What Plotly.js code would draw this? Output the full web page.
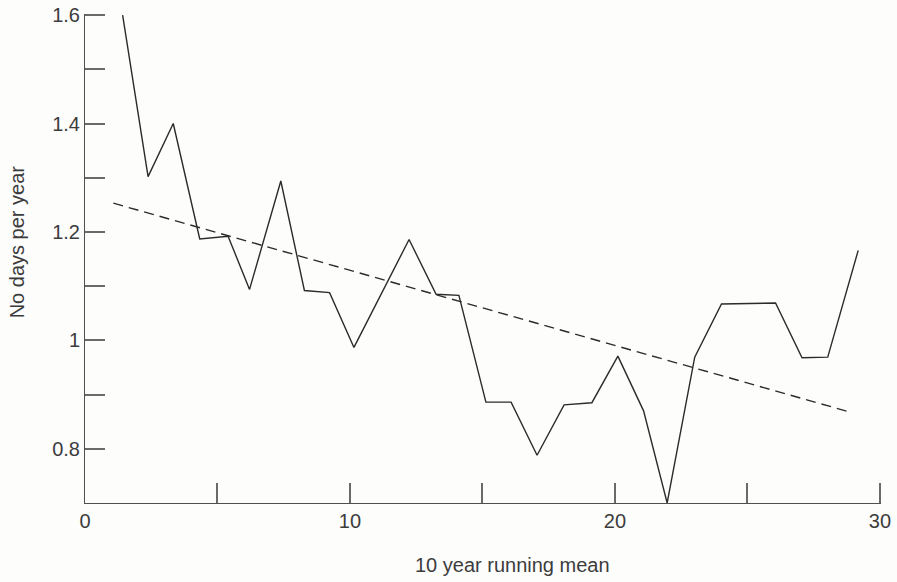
<!DOCTYPE html>
<html>
<head>
<meta charset="utf-8">
<script src="https://cdn.plot.ly/plotly-3.0.1.min.js"></script>
<style>
  html, body { margin: 0; padding: 0; background: #fdfdfc; }
  #chart { width: 897px; height: 582px; }
</style>
</head>
<body>
<div id="chart"></div>
<script>
// Running-mean series (x = position along 10-year running mean, y = days per year)
const seriesX = [1.42, 2.38, 3.33, 4.33, 5.40, 6.21, 7.39, 8.28, 9.23, 10.15,
                 12.23, 13.25, 14.11, 15.13, 16.08, 17.06, 18.08, 19.13, 20.11, 21.08,
                 21.97, 23.01, 24.02, 26.06, 27.06, 28.03, 29.18];
const seriesY = [1.60, 1.302, 1.40, 1.187, 1.192, 1.094, 1.294, 1.092, 1.088, 0.987,
                 1.186, 1.085, 1.083, 0.886, 0.886, 0.788, 0.881, 0.885, 0.971, 0.870,
                 0.70, 0.969, 1.067, 1.069, 0.968, 0.969, 1.166];

// Linear trend (dashed)
const trendX = [1.07, 28.85];
const trendY = [1.253, 0.868];

// Tick positions and labels
const xTickVals = [0, 5, 10, 15, 20, 25, 30];
const xTickText = ["0", "", "10", "", "20", "", "30"];
const yTickVals = [0.8, 0.9, 1.0, 1.1, 1.2, 1.3, 1.4, 1.5, 1.6];
const yTickText = ["0.8", "", "1", "", "1.2", "", "1.4", "", "1.6"];

// Axis titles
const xTitle = "10 year running mean";
const yTitle = "No days per year";

const axisColor = "#505050";
const tickColor = "#6a6a6a";
const textColor = "#3c3c3c";
const fontFamily = "Liberation Sans, Arial, Helvetica, sans-serif";

const traces = [
  {
    x: seriesX, y: seriesY, type: "scatter", mode: "lines",
    line: { color: "#2b2b2b", width: 1.4 },
    hoverinfo: "skip", showlegend: false
  },
  {
    x: trendX, y: trendY, type: "scatter", mode: "lines",
    line: { color: "#2b2b2b", width: 1.4, dash: "10px,6px" },
    hoverinfo: "skip", showlegend: false
  }
];

const layout = {
  width: 897, height: 582, autosize: false,
  margin: { l: 85, r: 16, t: 14, b: 79, pad: 0 },
  paper_bgcolor: "#fdfdfc", plot_bgcolor: "#fdfdfc",
  font: { family: fontFamily, size: 20, color: textColor },
  xaxis: {
    range: [0, 30.04], showgrid: false, zeroline: false,
    showline: true, linecolor: axisColor, linewidth: 1,
    tickmode: "array", tickvals: xTickVals, ticktext: xTickText,
    ticks: "inside", ticklen: 20, tickwidth: 2, tickcolor: tickColor,
    tickfont: { size: 20, color: textColor, family: fontFamily }
  },
  yaxis: {
    range: [0.7, 1.602], showgrid: false, zeroline: false,
    showline: true, linecolor: axisColor, linewidth: 1,
    tickmode: "array", tickvals: yTickVals, ticktext: yTickText,
    ticks: "inside", ticklen: 20, tickwidth: 2, tickcolor: tickColor,
    tickfont: { size: 20, color: textColor, family: fontFamily }
  },
  annotations: [
    {
      text: xTitle, xref: "paper", yref: "paper",
      x: 0.537, y: -0.127, xanchor: "center", yanchor: "middle",
      showarrow: false, font: { size: 20, color: textColor, family: fontFamily }
    },
    {
      text: yTitle, xref: "paper", yref: "paper", textangle: -90,
      x: -0.0855, y: 0.535, xanchor: "center", yanchor: "middle",
      showarrow: false, font: { size: 20, color: textColor, family: fontFamily }
    }
  ]
};

Plotly.newPlot("chart", traces, layout, { staticPlot: true, displayModeBar: false });
</script>
</body>
</html>
